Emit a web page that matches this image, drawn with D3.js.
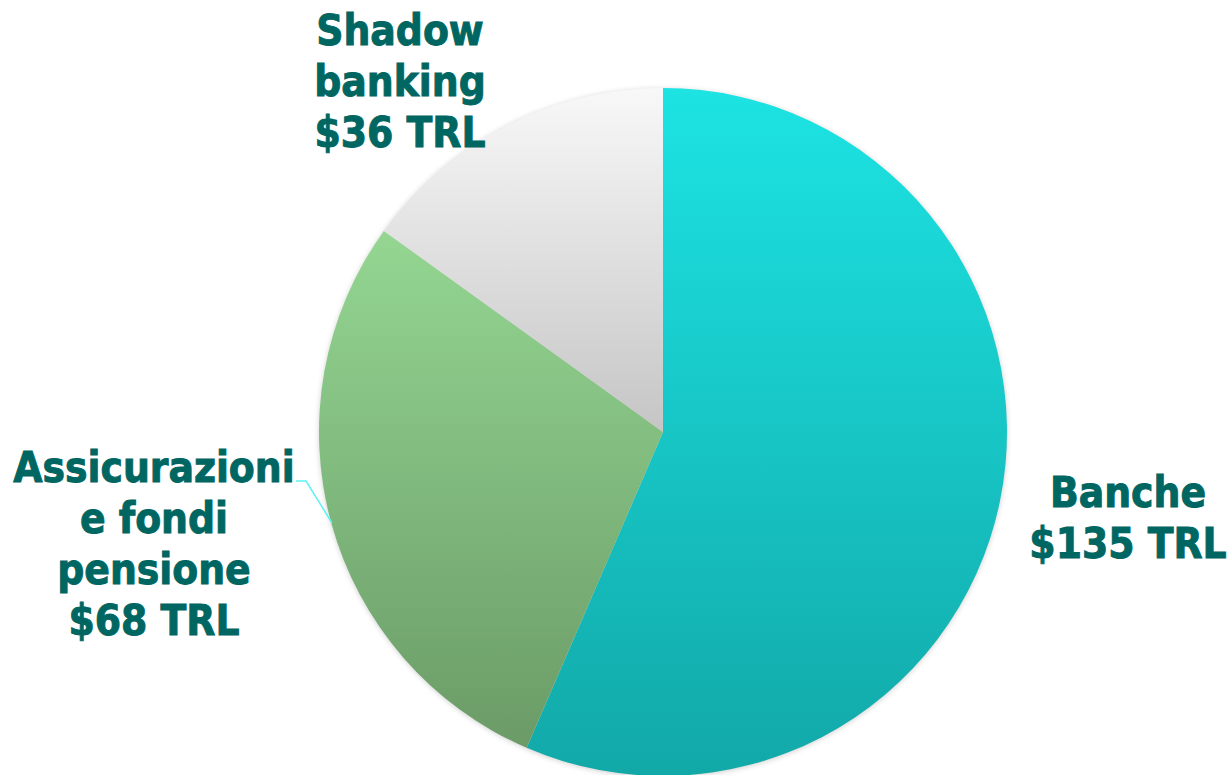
<!DOCTYPE html>
<html>
<head>
<meta charset="utf-8">
<script src="https://cdn.jsdelivr.net/npm/d3@7"></script>
<style>
  body { margin: 0; background: #fff; }
  svg { display: block; }
</style>
</head>
<body>
<div id="chart"></div>
<script>
const labels = ["Banche", "Assicurazioni e fondi pensione", "Shadow banking"];
const values = [135, 68, 36];
const valueLabels = ["$135 TRL", "$68 TRL", "$36 TRL"];
const labelLines = [
  ["Banche", "$135 TRL"],
  ["Assicurazioni", "e fondi", "pensione", "$68 TRL"],
  ["Shadow", "banking", "$36 TRL"]
];
const topColors = ["#1de3e3", "#94d692", "#f8f8f8"];
const bottomColors = ["#12a8a8", "#6b9b67", "#c5c5c5"];

const width = 1231, height = 775;
const cx = 663, cy = 432, radius = 344;

const svg = d3.select("#chart").append("svg")
  .attr("width", width)
  .attr("height", height);

const defs = svg.append("defs");
labels.forEach((l, i) => {
  const g = defs.append("linearGradient")
    .attr("id", "grad" + i)
    .attr("x1", 0).attr("y1", 0).attr("x2", 0).attr("y2", 1);
  g.append("stop").attr("offset", "0%").attr("stop-color", topColors[i]);
  g.append("stop").attr("offset", "100%").attr("stop-color", bottomColors[i]);
});

const shadow = defs.append("filter").attr("id", "shadow")
  .attr("x", "-5%").attr("y", "-5%").attr("width", "110%").attr("height", "110%");
shadow.append("feGaussianBlur").attr("in", "SourceAlpha").attr("stdDeviation", 3);
shadow.append("feOffset").attr("dx", 0).attr("dy", 1).attr("result", "blur");
shadow.append("feComponentTransfer").append("feFuncA").attr("type", "linear").attr("slope", 0.25);
const merge = shadow.append("feMerge");
merge.append("feMergeNode");
merge.append("feMergeNode").attr("in", "SourceGraphic");

const pie = d3.pie().sort(null).value(d => d)(values);
const arc = d3.arc().innerRadius(0).outerRadius(radius);

const g = svg.append("g").attr("transform", `translate(${cx},${cy})`);

g.append("circle").attr("r", radius - 1).attr("fill", "#ddd").attr("filter", "url(#shadow)");

g.selectAll("path.slice")
  .data(pie)
  .join("path")
  .attr("class", "slice")
  .attr("d", arc)
  .attr("fill", (d, i) => `url(#grad${i})`);

// leader line for the insurance label
svg.append("polyline")
  .attr("points", "296,481 306,481 332,523")
  .attr("fill", "none")
  .attr("stroke", "#5ef2f2")
  .attr("stroke-width", 1.5);

const labelPos = [
  { x: 1128, y: 507 },
  { x: 154, y: 482 },
  { x: 400, y: 45 }
];
const lineH = 51;

labelLines.forEach((lines, i) => {
  const t = svg.append("text")
    .attr("text-anchor", "middle")
    .attr("fill", "#006661")
    .attr("stroke", "#006661")
    .attr("stroke-width", 0.9)
    .style("font-family", "'DejaVu Sans Condensed', 'DejaVu Sans', sans-serif")
    .style("font-stretch", "condensed")
    .style("font-weight", "bold")
    .style("font-size", "42px");
  lines.forEach((ln, j) => {
    t.append("tspan")
      .attr("x", labelPos[i].x)
      .attr("y", labelPos[i].y + j * lineH)
      .text(ln);
  });
});
</script>
</body>
</html>
